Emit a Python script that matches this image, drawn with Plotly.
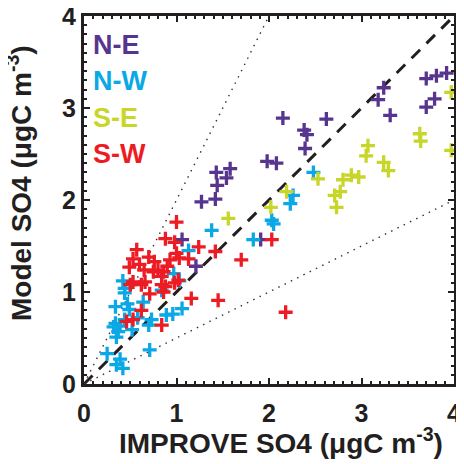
import plotly.graph_objects as go

# ---- data (IMPROVE observed, model) ----
ne_x = [3.70, 3.81, 3.92, 3.24, 3.18, 3.31, 3.70, 3.79, 2.15, 2.62, 2.38, 2.41, 2.39,
        1.98, 2.08, 1.43, 1.58, 1.54, 1.44, 1.42, 1.27, 1.06, 1.21, 1.91]
ne_y = [3.32, 3.35, 3.38, 3.22, 3.09, 2.92, 3.01, 3.10, 2.89, 2.88, 2.76, 2.71, 2.56,
        2.42, 2.40, 2.30, 2.34, 2.24, 2.16, 2.01, 1.98, 1.57, 1.28, 1.57]

nw_x = [2.48, 2.26, 2.23, 2.03, 2.05, 1.38, 1.83, 1.13, 0.97, 1.03, 0.42, 0.44, 0.84,
        0.44, 0.34, 0.47, 0.49, 0.64, 1.06, 0.96, 0.89, 0.73, 0.34, 0.39, 0.44, 0.37,
        0.52, 0.70, 0.35, 0.71, 0.25, 0.39, 0.35, 0.42, 0.32, 0.58]
nw_y = [2.30, 2.05, 1.96, 1.78, 1.74, 1.67, 1.57, 1.45, 1.20, 1.12, 1.12, 1.04, 1.02,
        0.99, 0.84, 0.87, 0.81, 0.89, 0.82, 0.76, 0.75, 0.70, 0.66, 0.63, 0.70, 0.57,
        0.59, 0.64, 0.51, 0.37, 0.33, 0.27, 0.21, 0.17, 0.62, 0.72]

se_x = [3.97, 3.63, 3.64, 3.07, 3.05, 3.24, 3.29, 2.89, 2.97, 2.80, 2.77, 2.71, 2.73,
        2.53, 3.97, 2.19, 2.02, 1.56]
se_y = [3.17, 2.72, 2.64, 2.59, 2.48, 2.41, 2.32, 2.27, 2.25, 2.22, 2.09, 2.05, 1.92,
        2.23, 2.54, 2.09, 1.92, 1.80]

sw_x = [1.00, 0.88, 0.98, 0.57, 0.53, 0.70, 0.76, 0.49, 0.65, 0.75, 0.86, 0.93, 1.03,
        1.13, 1.24, 1.42, 1.70, 2.03, 1.00, 1.02, 0.53, 0.62, 0.84, 0.86, 0.71, 1.16,
        1.45, 0.62, 0.46, 0.53, 0.84, 2.18, 0.66, 0.84, 0.80, 0.98, 0.50, 0.88, 0.60, 0.90]
sw_y = [1.76, 1.58, 1.54, 1.46, 1.36, 1.38, 1.33, 1.27, 1.24, 1.22, 1.22, 1.35, 1.37,
        1.36, 1.49, 1.44, 1.35, 1.57, 1.42, 1.13, 1.11, 1.08, 1.08, 1.00, 0.98, 0.93,
        0.91, 0.80, 0.68, 0.70, 0.64, 0.78, 1.11, 1.17, 1.24, 1.10, 1.08, 1.06, 1.30, 1.28]

series_names = ["N-E", "N-W", "S-E", "S-W"]
series_colors = ["#57358f", "#0aa8e6", "#c8d62a", "#ed1c24"]

ref_x = [0, 4]
ref_slopes = [1.0, 2.0, 0.5]

tick_vals = [0, 1, 2, 3, 4]

# ---- layout geometry (pixels; page body has an 8px margin) ----
OFF = 8
W, H = 456, 456
L, R, T, B = 76, 10, 8, 80
pw, ph = W - L - R, H - T - B


def px2paper_x(px):
    return (px - OFF - L) / pw


def px2paper_y(py):
    return (H - B - (py - OFF)) / ph


fig = go.Figure()

# reference lines
fig.add_trace(go.Scatter(x=ref_x, y=[ref_slopes[0] * v for v in ref_x], mode="lines",
                         line=dict(color="#231f20", width=3, dash="12px,9px"),
                         showlegend=False, hoverinfo="skip"))
fig.add_trace(go.Scatter(x=[v / ref_slopes[1] for v in ref_x], y=ref_x, mode="lines",
                         line=dict(color="#333333", width=1.4, dash="1.5px,5.5px"),
                         showlegend=False, hoverinfo="skip"))
fig.add_trace(go.Scatter(x=ref_x, y=[ref_slopes[2] * v for v in ref_x], mode="lines",
                         line=dict(color="#333333", width=1.4, dash="1.5px,5.5px"),
                         showlegend=False, hoverinfo="skip"))

for name, col, xs, ys in zip(series_names, series_colors,
                             [ne_x, nw_x, se_x, sw_x], [ne_y, nw_y, se_y, sw_y]):
    fig.add_trace(go.Scatter(x=xs, y=ys, mode="markers", name=name, showlegend=False,
                             cliponaxis=True,
                             marker=dict(symbol="cross-thin-open", size=10,
                                         line=dict(color=col, width=3.3), color=col)))

axis_common = dict(range=[0, 4], tickvals=tick_vals, ticks="inside", ticklen=6, tickwidth=2,
                   tickcolor="#231f20", showline=True, linewidth=3, linecolor="#231f20",
                   mirror="allticks", showgrid=False, zeroline=False, automargin=False,
                   ticklabeloverflow="allow",
                   tickfont=dict(family="Liberation Sans", size=25, color="#231f20",
                                 weight="bold"),
                   minor=dict(dtick=0.1, ticks="inside", ticklen=3, tickwidth=1.5,
                              tickcolor="#231f20", showgrid=False))

fig.update_layout(
    width=W, height=H,
    margin=dict(l=L, r=R, t=T, b=B, autoexpand=False),
    paper_bgcolor="white", plot_bgcolor="white",
    xaxis=dict(**axis_common, ticklabelstandoff=5),
    yaxis=dict(**axis_common, ticklabelstandoff=0),
)

annotations = []
# legend labels as coloured text
legend_y_px = [44.5, 81, 118, 154]
for name, col, ypx in zip(series_names, series_colors, legend_y_px):
    annotations.append(dict(text="<b>%s</b>" % name, xref="paper", yref="paper",
                            x=px2paper_x(91), y=px2paper_y(ypx), xanchor="left",
                            yanchor="middle", showarrow=False,
                            font=dict(family="Liberation Sans", size=27, color=col)))
# axis titles
annotations.append(dict(text="<b>IMPROVE SO4 (μgC m<sup>-3</sup>)</b>", xref="paper",
                        yref="paper", x=px2paper_x(281), y=px2paper_y(441),
                        xanchor="center", yanchor="middle", showarrow=False,
                        font=dict(family="Liberation Sans", size=28, color="#231f20")))
annotations.append(dict(text="<b>Model SO4 (μgC m<sup>-3</sup>)</b>", xref="paper",
                        yref="paper", x=px2paper_x(19), y=px2paper_y(183),
                        xanchor="center", yanchor="middle", textangle=-90, showarrow=False,
                        font=dict(family="Liberation Sans", size=28, color="#231f20")))
fig.update_layout(annotations=annotations)

fig.write_html("out.html")
